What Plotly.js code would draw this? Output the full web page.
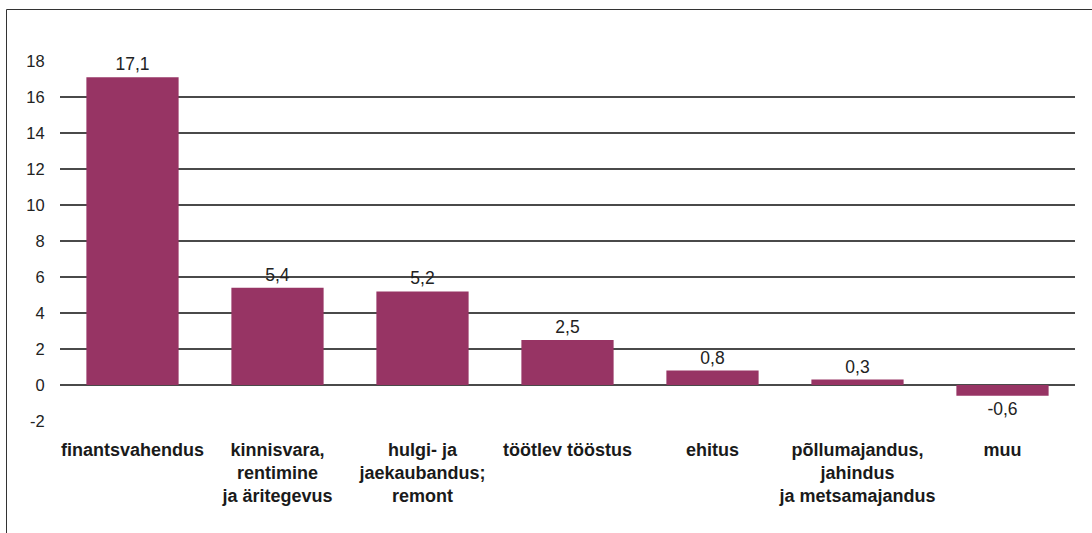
<!DOCTYPE html>
<html>
<head>
<meta charset="utf-8">
<script src="https://cdn.plot.ly/plotly-3.0.1.min.js"></script>
<style>html,body{margin:0;padding:0;background:#fff;}#chart{width:1092px;height:533px;}</style>
</head>
<body>
<div id="chart"></div>
<script>
const categories = [
  "finantsvahendus",
  "kinnisvara,<br>rentimine<br>ja äritegevus",
  "hulgi- ja<br>jaekaubandus;<br>remont",
  "töötlev tööstus",
  "ehitus",
  "põllumajandus,<br>jahindus<br>ja metsamajandus",
  "muu"
];
const values = [17.1, 5.4, 5.2, 2.5, 0.8, 0.3, -0.6];
const yTicks = [-2, 0, 2, 4, 6, 8, 10, 12, 14, 16, 18];

const L = 60, R = 17, T = 61, B = 112, W = 1092, H = 533;
const pw = W - L - R, ph = H - T - B;
const px = x => (x - L) / pw;
const py = y => (H - B - y) / ph;
const FONT = 'Liberation Sans, Arial, Helvetica, sans-serif';

Plotly.newPlot('chart', [{
  type: 'bar',
  x: categories,
  y: values,
  marker: {color: '#973464'},
  texttemplate: '%{y:.1f}',
  textposition: 'outside',
  cliponaxis: false,
  textfont: {family: FONT, size: 17.5, color: '#222'},
  hoverinfo: 'none'
}], {
  width: W, height: H,
  margin: {l: L, r: R, t: T, b: B, pad: 0},
  separators: ', ',
  bargap: 0.364,
  showlegend: false,
  paper_bgcolor: '#fff',
  plot_bgcolor: '#fff',
  font: {family: FONT, size: 16, color: '#222'},
  xaxis: {
    type: 'category',
    showgrid: false,
    zeroline: false,
    showline: false,
    ticks: 'outside',
    ticklen: 12,
    tickcolor: 'rgba(0,0,0,0)',
    tickfont: {family: FONT, size: 18, color: '#1a1a1a', weight: 'bold'},
    tickangle: 0
  },
  yaxis: {
    range: [-2, 18],
    tickvals: yTicks,
    ticktext: yTicks.map(String),
    showgrid: true,
    gridcolor: '#4a4a4a',
    gridwidth: 1.2,
    zeroline: true,
    zerolinecolor: '#4a4a4a',
    zerolinewidth: 1.2,
    showline: false,
    ticks: 'outside',
    ticklen: 11,
    tickcolor: 'rgba(0,0,0,0)',
    tickfont: {family: FONT, size: 16.5, color: '#222'}
  },
  shapes: [{
    type: 'rect', xref: 'paper', yref: 'paper',
    x0: px(6.5), x1: px(1100), y0: py(545), y1: py(9.5),
    line: {color: '#333', width: 1}, fillcolor: 'rgba(0,0,0,0)', layer: 'below'
  }]
}, {displayModeBar: false, staticPlot: true});
</script>
</body>
</html>
